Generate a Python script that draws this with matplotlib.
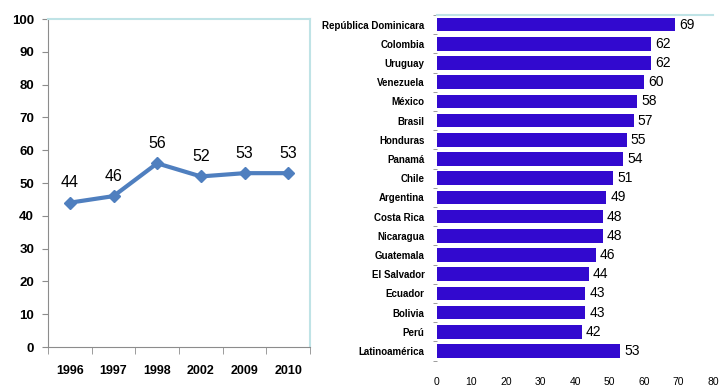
import matplotlib
matplotlib.use("Agg")
import matplotlib.pyplot as plt
import numpy as np

plt.rcParams['font.family'] = ['Liberation Sans', 'DejaVu Sans']

# Trend over time
years = ["1996", "1997", "1998", "2002", "2009", "2010"]
trend = [44, 46, 56, 52, 53, 53]

# Country values
countries = ["República Dominicara", "Colombia", "Uruguay", "Venezuela", "México",
             "Brasil", "Honduras", "Panamá", "Chile", "Argentina", "Costa Rica",
             "Nicaragua", "Guatemala", "El Salvador", "Ecuador", "Bolivia", "Perú",
             "Latinoamérica"]
values = [69, 62, 62, 60, 58, 57, 55, 54, 51, 49, 48, 48, 46, 44, 43, 43, 42, 53]

line_color = "#4F7FBF"
bar_color = "#3209CF"
frame_cyan = "#BFE3E6"
axis_grey = "#8C8C8C"

fig = plt.figure(figsize=(7.2, 3.87), dpi=100)

# ---- line chart ----
ax1 = fig.add_axes([48/720, 1-347/387, 262/720, 328/387])
x = np.arange(len(years))
ax1.plot(x, trend, color=line_color, lw=3, marker="D", ms=6, zorder=3)
for xi, v in zip(x, trend):
    ax1.annotate(str(v), (xi, v), xytext=(0, 9), textcoords="offset points",
                 ha="center", va="bottom", fontsize=11.5)
ax1.set_xlim(-0.5, len(years) - 0.5)
ax1.set_ylim(0, 100)
ax1.set_yticks(range(0, 101, 10))
ax1.set_xticks(x)
ax1.set_xticklabels(years, fontsize=9, fontweight="bold")
ax1.set_xticks(np.arange(-0.5, len(years)), minor=True)
ax1.tick_params(axis="x", which="major", length=0, pad=13)
ax1.tick_params(axis="x", which="minor", length=5, color=axis_grey)
ax1.tick_params(axis="y", length=4, color=axis_grey, labelsize=9.5, pad=6)
for lab in ax1.get_yticklabels():
    lab.set_fontweight("bold")
ax1.spines["left"].set_color(axis_grey)
ax1.spines["bottom"].set_color(axis_grey)
ax1.spines["top"].set_color(frame_cyan)
ax1.spines["right"].set_color(frame_cyan)
ax1.spines["top"].set_linewidth(1.5)
ax1.spines["right"].set_linewidth(1.5)

# ---- horizontal bar chart ----
ax2 = fig.add_axes([437/720, 1-360.6/387, 276/720, 345.6/387])
y = np.arange(len(countries))
ax2.barh(y, values, height=0.7, color=bar_color, zorder=2)
for yi, v in zip(y, values):
    ax2.text(v + 1.2, yi, str(v), va="center", ha="left", fontsize=10)
ax2.set_ylim(len(countries) - 0.5, -0.5)
ax2.set_xlim(0, 80)
ax2.set_yticks(y)
ax2.set_yticklabels(countries, fontsize=7, fontweight="bold")
ax2.set_yticks(np.arange(-0.5, len(countries)), minor=True)
ax2.tick_params(axis="y", which="major", length=0, pad=9)
ax2.tick_params(axis="y", which="minor", length=3, color=axis_grey)
ax2.set_xticks(range(0, 81, 10))
ax2.set_xticks([10, 30, 50, 70], minor=True)
ax2.tick_params(axis="x", which="major", length=0, pad=12, labelsize=7.5)
ax2.tick_params(axis="x", which="minor", length=4, color=axis_grey, direction="out")
for s in ["left", "bottom", "right"]:
    ax2.spines[s].set_visible(False)
ax2.spines["top"].set_color(frame_cyan)
ax2.spines["top"].set_linewidth(1.5)

fig.savefig("out.png", dpi=100)
